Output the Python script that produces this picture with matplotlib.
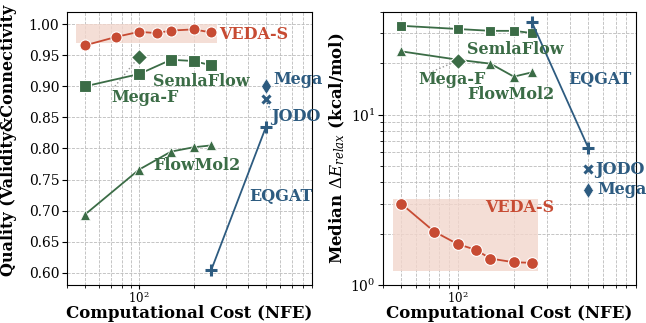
import matplotlib
matplotlib.use("Agg")
import matplotlib.pyplot as plt
from matplotlib.patches import Rectangle

plt.rcParams["font.family"] = "DejaVu Serif"
plt.rcParams["mathtext.fontset"] = "dejavuserif"

RED = "#c74b33"
GREEN = "#3b6c46"
BLUE = "#2d5b80"
SHADE = "#f2d6cc"

# NFE values
veda_nfe = [50, 75, 100, 125, 150, 200, 250]
semla_nfe = [50, 100, 150, 200, 250]
flow_nfe = [50, 100, 150, 200, 250]
megaf_nfe = [100]
eqgat_nfe = [250, 500]
jodo_nfe = [500]
mega_nfe = [500]

# Quality (validity & connectivity)
veda_q = [0.966, 0.980, 0.988, 0.986, 0.990, 0.992, 0.987]
semla_q = [0.900, 0.920, 0.943, 0.941, 0.934]
flow_q = [0.693, 0.766, 0.795, 0.802, 0.805]
megaf_q = [0.948]
eqgat_q = [0.604, 0.834]
jodo_q = [0.879]
mega_q = [0.900]

# Median relaxation energy (kcal/mol)
veda_e = [3.0, 2.06, 1.74, 1.61, 1.43, 1.36, 1.35]
semla_e = [33.2, 31.8, 31.0, 31.0, 30.1]
flow_e = [23.5, 21.0, 19.9, 16.7, 17.7]
megaf_e = [20.7]
eqgat_e = [34.8, 6.39]
jodo_e = [4.77]
mega_e = [3.62]

fig = plt.figure(figsize=(6.46, 3.23), dpi=100)
ax1 = fig.add_axes([0.1037, 0.1176, 0.3793, 0.8453])
ax2 = fig.add_axes([0.593, 0.1176, 0.3915, 0.8453])

for ax in (ax1, ax2):
    ax.set_xscale("log")
    ax.set_xlim(40, 900)
    ax.grid(True, which="both", ls="--", lw=0.6, color="#bbbbbb")
    ax.set_axisbelow(True)
    ax.tick_params(axis="y", labelsize=10, pad=2)
    ax.tick_params(axis="x", which="both", labelsize=8.5, pad=1)
    ax.tick_params(axis="x", which="major", length=3)
    ax.tick_params(axis="x", which="minor", length=2)
    ax.set_xlabel("Computational Cost (NFE)", fontsize=12, fontweight="bold", labelpad=-1)

# ---- left: quality
ax1.add_patch(Rectangle((45, 0.970), 225, 0.030, color=SHADE, alpha=0.8, lw=0, zorder=1))
ax1.plot(veda_nfe, veda_q, "-o", color=RED, ms=8, mec="white", mew=0.8, lw=1.3, zorder=3)
ax1.plot(semla_nfe, semla_q, "-s", color=GREEN, ms=8, mec="white", mew=0.8, lw=1.3, zorder=3)
ax1.plot(flow_nfe, flow_q, "-^", color=GREEN, ms=7.5, mec="white", mew=0.5, lw=1.3, zorder=3)
ax1.plot(megaf_nfe, megaf_q, "D", color=GREEN, ms=8, mec="white", mew=0.8, zorder=4)
ax1.plot(eqgat_nfe, eqgat_q, "-+", color=BLUE, ms=8, mew=2.2, lw=1.3, zorder=3)
ax1.plot(jodo_nfe, jodo_q, "x", color=BLUE, ms=6, mew=2.2, zorder=3)
ax1.plot(mega_nfe, mega_q, "d", color=BLUE, ms=8, mec="white", mew=0.5, zorder=3)
ax1.plot([100, 72], [0.948, 0.897], ":", color="#999999", lw=1, zorder=2)
ax1.plot([500, 530], [0.879, 0.862], ":", color=BLUE, lw=1, zorder=2)
ax1.set_ylim(0.58, 1.02)
ax1.set_yticks([0.60, 0.65, 0.70, 0.75, 0.80, 0.85, 0.90, 0.95, 1.00])
ax1.set_ylabel("Quality (Validity&Connectivity", fontsize=11.5, fontweight="bold")
ax1.yaxis.set_label_coords(-0.205, 0.53)

kw = dict(fontsize=11.5, fontweight="bold", va="center", ha="left", clip_on=False)
ax1.text(278, 0.983, "VEDA-S", color=RED, **kw)
ax1.text(120, 0.9075, "SemlaFlow", color=GREEN, **kw)
ax1.text(70, 0.882, "Mega-F", color=GREEN, **kw)
ax1.text(120, 0.772, "FlowMol2", color=GREEN, **kw)
ax1.text(403, 0.722, "EQGAT", color=BLUE, **kw)
ax1.text(551, 0.911, "Mega", color=BLUE, **kw)
ax1.text(535, 0.851, "JODO", color=BLUE, **kw)

# ---- right: energy
ax2.set_yscale("log")
ax2.add_patch(Rectangle((45, 1.21), 225, 1.98, color=SHADE, alpha=0.8, lw=0, zorder=1))
ax2.plot(veda_nfe, veda_e, "-o", color=RED, ms=8.5, mec="white", mew=0.8, lw=1.3, zorder=3)
ax2.plot(semla_nfe, semla_e, "-s", color=GREEN, ms=7.5, mec="white", mew=0.8, lw=1.3, zorder=3)
ax2.plot(flow_nfe, flow_e, "-^", color=GREEN, ms=7, mec="white", mew=0.5, lw=1.3, zorder=3)
ax2.plot(megaf_nfe, megaf_e, "D", color=GREEN, ms=8, mec="white", mew=0.8, zorder=4)
ax2.plot(eqgat_nfe, eqgat_e, "-+", color=BLUE, ms=8, mew=2.2, lw=1.3, zorder=3)
ax2.plot(jodo_nfe, jodo_e, "x", color=BLUE, ms=6, mew=2.2, zorder=3)
ax2.plot(mega_nfe, mega_e, "d", color=BLUE, ms=8, mec="white", mew=0.5, zorder=3)
ax2.plot([100, 70], [20.7, 17.5], ":", color="#999999", lw=1, zorder=2)
ax2.set_ylim(1, 40)
ax2.set_ylabel("Median $\\Delta E_{relax}$ (kcal/mol)", fontsize=12, fontweight="bold", labelpad=2)

ax2.text(140, 2.85, "VEDA-S", color=RED, **kw)
ax2.text(112.7, 24.0, "SemlaFlow", color=GREEN, **kw)
ax2.text(61.5, 16.1, "Mega-F", color=GREEN, **kw)
ax2.text(112.7, 13.1, "FlowMol2", color=GREEN, **kw)
ax2.text(393, 16.1, "EQGAT", color=BLUE, **kw)
ax2.text(547, 4.77, "JODO", color=BLUE, **kw)
ax2.text(558, 3.62, "Mega", color=BLUE, **kw)

fig.savefig("out.png", dpi=100)
